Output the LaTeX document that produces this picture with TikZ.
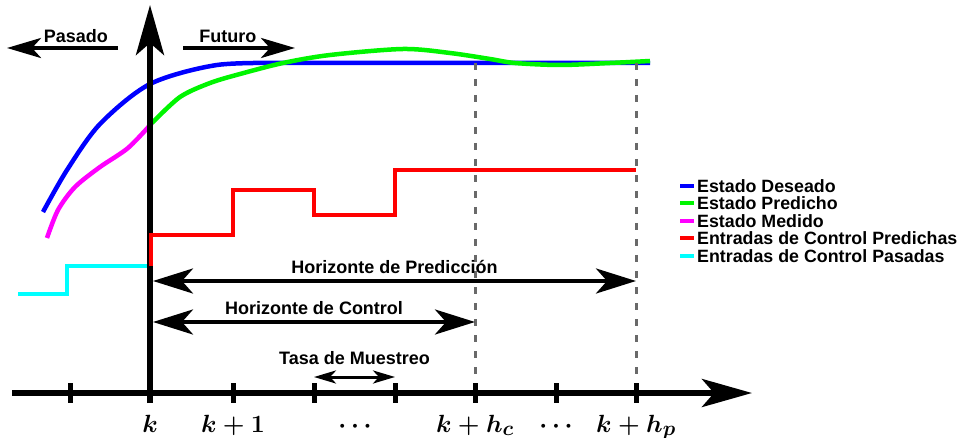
\documentclass[tikz,border=0pt]{standalone}
\usepackage[no-math]{fontspec}
\setmainfont{Liberation Sans}
\usetikzlibrary{positioning,arrows.meta}
\definecolor{gris}{RGB}{105,105,105}
\definecolor{verde}{RGB}{0,245,0}
\definecolor{azul}{RGB}{0,0,255}
\definecolor{rojo}{RGB}{255,0,0}
\definecolor{magenta}{RGB}{255,0,255}
\definecolor{cian}{RGB}{0,255,255}
\tikzset{
  eje/.style       = {line width=5.5pt, -{Stealth[length=50pt, width=28pt, inset=12pt]}},
  marca/.style     = {line width=5pt},
  guia/.style      = {draw=gris, line width=3pt, dash pattern=on 7pt off 9pt},
  curva/.style     = {line width=4.5pt, line cap=butt},
  escalon/.style   = {line width=4.5pt},
  horizonte/.style = {line width=4pt, {Stealth[length=40pt, width=25pt, inset=11pt]}-{Stealth[length=40pt, width=25pt, inset=11pt]}},
  muestreo/.style  = {line width=3pt, {Stealth[length=22pt, width=13pt, inset=6pt]}-{Stealth[length=22pt, width=13pt, inset=6pt]}},
  tiempo/.style    = {line width=4pt, -{Stealth[length=34pt, width=20pt, inset=9pt]}},
  texto/.style     = {font=\bfseries\fontsize{18}{20}\selectfont, inner sep=2pt},
  leyenda/.style   = {font=\bfseries\fontsize{17.8}{19}\selectfont, anchor=west, inner sep=0pt},
  etiq/.style      = {font=\fontsize{28}{30}\selectfont\boldmath, anchor=base, inner sep=0pt}
}

\begin{document}
\begin{tikzpicture}[x=1pt, y=-1pt]
  \useasboundingbox (0,0) rectangle (963,438);

  % instantes de muestreo
  \foreach \n/\x in {m1/70, k0/150, k1/233, k2/314, k3/395, kc/475, k5/556, kp/636}
    \coordinate (\n) at (\x,393);
  \coordinate (ini) at (12,393);
  \coordinate (fin) at (752,393);
  \coordinate (abajo) at (150,403);
  \coordinate (arriba) at (150,5);
  \coordinate (hc) at (475,63);
  \coordinate (hp) at (636,63);

  % curvas
  \draw[curva, azul] plot[smooth] coordinates {(43,212) (67,170) (100,124)
    (150,84) (217,65) (290,63)} -- (650,63);
  \draw[curva, magenta] plot[smooth] coordinates {(47,238) (58,210) (75,187)
    (100,167) (128,148) (152,123)};
  \draw[curva, verde] plot[smooth] coordinates {(152,123) (180,97) (210,83) (240,74)
    (283,63) (330,55) (403,49) (450,53) (490,59) (515,63) (560,65) (610,63) (650,61)};
  \draw[escalon, cian] (18,294) -| (67,266) -- (150,266);

  % horizontes
  \draw[guia] (hc) -- (kc);
  \draw[guia] (hp) -- (kp);

  % ejes
  \draw[eje] (ini) -- (fin);
  \draw[eje] (abajo) -- (arriba);
  \foreach \n in {m1, k1, k2, k3, kc, k5, kp}
    \draw[marca] ([yshift=10pt]\n) -- ([yshift=-10pt]\n);

  \draw[escalon, rojo] (151,266) |- (233,235) |- (314,190) |- (395,215) |- (636,170);

  \coordinate (pi) at (153,281);
  \coordinate (pf) at (636,281);
  \coordinate (ci) at (153,322);
  \coordinate (cf) at (475,322);
  \coordinate (mi) at (314,377);
  \coordinate (mf) at (395,377);
  \draw[horizonte] (pi) -- node[texto, above=3.5pt] (tpred) {Horizonte de Predicción} (pf);
  \draw[horizonte] (ci) -- node[texto, above=3.5pt] (tctrl) {Horizonte de Control} (cf);
  \draw[muestreo] (mi) -- node[texto, above=8.5pt] (tmues) {Tasa de Muestreo} (mf);

  \coordinate (pasa1) at (118,48);
  \coordinate (pasa2) at (7,48);
  \coordinate (fut1) at (183,48);
  \coordinate (fut2) at (295,48);
  \draw[tiempo] (pasa1) -- node[texto, pos=0.38, above=1pt] (pasado) {Pasado} (pasa2);
  \draw[tiempo] (fut1) -- node[texto, pos=0.4, above=1pt] (futuro) {Futuro} (fut2);

  % etiquetas del eje
  \node[etiq] (ek)  at (150,432) {$k$};
  \node[etiq] (ek1) at (233,432) {$k+1$};
  \node[etiq] (ed1) at (355,432) {$\cdots$};
  \node[etiq] (ekc) at (475,432) {$k+h_c$};
  \node[etiq] (ed2) at (556,432) {$\cdots$};
  \node[etiq] (ekp) at (636,432) {$k+h_p$};

  % leyenda
  \foreach \c/\t [count=\i] in {azul/Estado Deseado, verde/Estado Predicho, magenta/Estado Medido,
      rojo/Entradas de Control Predichas, cian/Entradas de Control Pasadas} {
    \draw[\c, line width=4pt] (680,168.5+17.5*\i) -- (694,168.5+17.5*\i);
    \node[leyenda] (ley\i) at (697,168.5+17.5*\i) {\t};
  }
\end{tikzpicture}
\end{document}
